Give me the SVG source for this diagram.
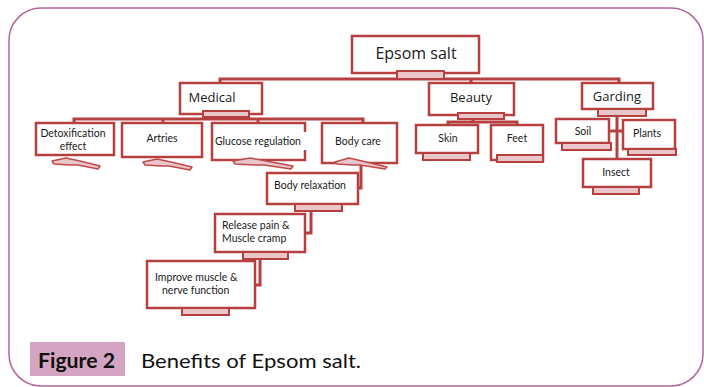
<svg xmlns="http://www.w3.org/2000/svg" width="704" height="387" viewBox="0 0 704 387">
<style>
.box{fill:#fff;stroke:#b5403f;stroke-width:2.5}
.bar{fill:#e8c6c9;stroke:#b5403f;stroke-width:2}
.sq{fill:#e8c6c9;stroke:#c0494a;stroke-width:1.5;stroke-linejoin:round}
.ln{fill:none;stroke:#b5403f;stroke-width:3}
.t{font-family:"Open Sans","Noto Sans",sans-serif;fill:#1a1a1a;text-anchor:middle}
.l{text-anchor:start}
.s{font-family:Lato,"Open Sans",sans-serif;font-size:10.5px}
.m{font-size:13px}
</style>
<rect x="9" y="8" width="694" height="378" rx="32" fill="#fff" stroke="#b0679a" stroke-width="1.5"/>

<g id="connectors">
<polyline class="ln" points="220,83 220,79 619,79 619,83"/>
<line class="ln" x1="471" y1="79" x2="471" y2="83"/>
<polyline class="ln" points="74,123 74,119 363,119 363,123"/>
<line class="ln" x1="163" y1="119" x2="163" y2="123"/>
<line class="ln" x1="258" y1="119" x2="258" y2="123"/>
<line class="ln" x1="226" y1="117" x2="226" y2="119"/>
<polyline class="ln" points="448,125 448,122 517,122 517,125"/>
<line class="ln" x1="473" y1="119" x2="473" y2="122"/>
<line class="ln" x1="617" y1="116" x2="617" y2="159"/>
<line class="ln" x1="609" y1="131" x2="623" y2="131"/>
<polyline class="ln" points="361,163 361,188 357,188"/>
<polyline class="ln" points="311,211 311,233 305,233"/>
<polyline class="ln" points="260,259 260,285 255,285"/>
</g>

<g id="epsom">
<rect class="box" x="352" y="36" width="127" height="37"/>
<rect class="bar" x="397" y="71" width="47" height="8"/>
<text class="t" x="416" y="59" font-size="16">Epsom salt</text>
</g>

<g id="medical">
<rect class="box" x="180" y="83" width="82" height="31"/>
<rect class="bar" x="203" y="111" width="46" height="6"/>
<text class="t m" x="212" y="102">Medical</text>
</g>

<g id="beauty">
<rect class="box" x="429" y="83" width="85" height="32"/>
<rect class="bar" x="458" y="113" width="46" height="6"/>
<text class="t m" x="471" y="102">Beauty</text>
</g>

<g id="garding">
<rect class="box" x="582" y="83" width="71" height="26"/>
<rect class="bar" x="598" y="109" width="48" height="7"/>
<text class="t m" x="617" y="101">Garding</text>
</g>

<g id="detox">
<rect class="box" x="36" y="123" width="78" height="32"/>
<polygon class="sq" points="52,161 66,158 80,161 100,166 98,169 78,165 70,165 54,164"/>
<text class="t s" x="73" y="137">Detoxification</text>
<text class="t s" x="73" y="150">effect</text>
</g>

<g id="artries">
<rect class="box" x="122" y="123" width="80" height="34"/>
<polygon class="sq" points="143,162 157,159 171,162 192,167 190,170 169,166 161,166 145,165"/>
<text class="t s" x="162" y="142">Artries</text>
</g>

<g id="glucose">
<rect class="box" x="212" y="123" width="93" height="37"/>
<rect x="299" y="132" width="9" height="18" fill="#fff"/>
<polygon class="sq" points="233,161 250,158 266,161 293,166 291,169 264,165 255,165 235,164"/>
<text class="t s" x="258" y="145">Glucose regulation</text>
</g>

<g id="bodycare">
<rect class="box" x="322" y="123" width="75" height="40"/>
<polygon class="sq" points="335,162 349,158 362,161 387,167 385,169 360,165 352,165 337,164"/>
<text class="t s" x="358" y="145">Body care</text>
</g>

<g id="bodyrelax">
<rect class="box" x="267" y="173" width="91" height="31"/>
<rect class="bar" x="295" y="204" width="47" height="7"/>
<text class="t s" x="310" y="189">Body relaxation</text>
</g>

<g id="release">
<rect class="box" x="215" y="214" width="90" height="38"/>
<rect class="bar" x="243" y="252" width="45" height="7"/>
<text class="t s l" x="222" y="229">Release pain &amp;</text>
<text class="t s l" x="222" y="242">Muscle cramp</text>
</g>

<g id="improve">
<rect class="box" x="147" y="261" width="108" height="47"/>
<rect class="bar" x="182" y="308" width="47" height="7"/>
<text class="t s l" x="155" y="281">Improve muscle &amp;</text>
<text class="t s l" x="162" y="294">nerve function</text>
</g>

<g id="skin">
<rect class="box" x="416" y="125" width="62" height="28"/>
<rect class="bar" x="423" y="153" width="47" height="7"/>
<text class="t s" x="448" y="142">Skin</text>
</g>

<g id="feet">
<rect class="box" x="491" y="125" width="52" height="35"/>
<rect class="bar" x="497" y="155" width="46" height="7"/>
<text class="t s" x="517" y="142">Feet</text>
</g>

<g id="soil">
<rect class="box" x="556" y="119" width="53" height="24"/>
<rect class="bar" x="562" y="143" width="49" height="7"/>
<text class="t s" x="583" y="135">Soil</text>
</g>

<g id="plants">
<rect class="box" x="623" y="120" width="52" height="29"/>
<rect class="bar" x="628" y="149" width="48" height="6"/>
<text class="t s" x="647" y="137">Plants</text>
</g>

<g id="insect">
<rect class="box" x="583" y="159" width="68" height="28"/>
<rect class="bar" x="593" y="187" width="46" height="7"/>
<text class="t s" x="616" y="176">Insect</text>
</g>

<g id="caption">
<rect x="30" y="342" width="95" height="34" fill="#d4a5c3"/>
<text x="38" y="368" font-family="Lato,'Liberation Sans',sans-serif" font-weight="bold" font-size="20" fill="#111" textLength="77" lengthAdjust="spacingAndGlyphs">Figure 2</text>
<text x="141" y="368" font-family="Lato,'Liberation Sans',sans-serif" font-size="20" fill="#111" textLength="220" lengthAdjust="spacingAndGlyphs">Benefits of Epsom salt.</text>
</g>
</svg>
